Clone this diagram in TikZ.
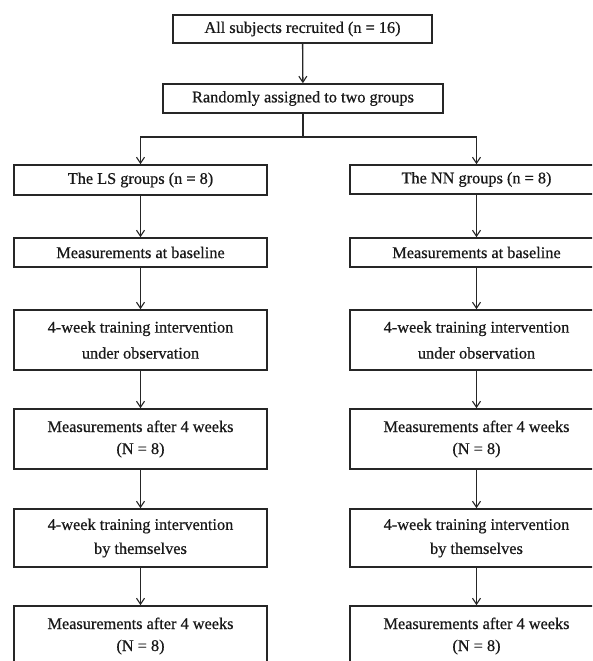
\documentclass[tikz,border=0pt]{standalone}
\usepackage{fontspec}
\setmainfont{Liberation Serif}[FakeBold=0.6]
\newfontfamily\boxfont{Liberation Serif}[FakeBold=0.6]
\usetikzlibrary{arrows.meta}

\begin{document}
\begin{tikzpicture}[x=1pt, y=-1pt,
    box/.style={draw=black!85, line width=1.6pt, fill=white, inner sep=0pt,
      align=center, text=black!90, font=\boxfont\fontsize{16.3}{24}\selectfont},
    colbox/.style={box, minimum width=253pt},
    arr/.style={draw=black!85, line width=1.3pt,
      -{Straight Barb[length=6pt, width=8pt, line width=1.1pt]}}]
    \useasboundingbox (0,0) rectangle (592,661);
    \clip (0,0) rectangle (592,661);
    \fill[white] (0,0) rectangle (592,661);
    \node[box, minimum width=259pt, minimum height=28pt] (allsub) at (302.5,29)
      {All subjects recruited (n = 16)};
    \node[box, minimum width=280pt, minimum height=29pt] (rand) at (303,98.5)
      {Randomly assigned to two groups};
    \coordinate (split) at (303,137);
    \node[colbox, minimum height=30pt] (ls) at (140.5,180)
      {The LS groups (n = 8)};
    \node[colbox, minimum height=29pt] (nn) at (476.5,179.5)
      {The NN groups (n = 8)};
    \node[colbox, minimum height=29pt] (lsbase) at (140.5,252.5)
      {Measurements at baseline};
    \node[colbox, minimum height=29pt] (nnbase) at (476.5,252.5)
      {Measurements at baseline};
    \node[colbox, minimum height=60pt] (lsobs) at (140.5,340)
      {4-week training intervention\\[2pt]under observation};
    \node[colbox, minimum height=60pt] (nnobs) at (476.5,340)
      {4-week training intervention\\[2pt]under observation};
    \node[colbox, minimum height=60pt] (lsmeas) at (140.5,439)
      {Measurements after 4 weeks\\[-2pt](N = 8)};
    \node[colbox, minimum height=60pt] (nnmeas) at (476.5,439)
      {Measurements after 4 weeks\\[-2pt](N = 8)};
    \node[colbox, minimum height=58pt] (lsself) at (140.5,538)
      {4-week training intervention\\by themselves};
    \node[colbox, minimum height=58pt] (nnself) at (476.5,538)
      {4-week training intervention\\by themselves};
    \node[colbox, minimum height=60pt] (lsend) at (140.5,636)
      {Measurements after 4 weeks\\[-2pt](N = 8)};
    \node[colbox, minimum height=60pt] (nnend) at (476.5,636)
      {Measurements after 4 weeks\\[-2pt](N = 8)};
    \draw[arr] (allsub) -- (rand);
    \draw[draw=black!85, line width=1.3pt] (rand) -- (split);
    \draw[arr] (split) -| (ls);
    \draw[arr] (split) -| (nn);
    \draw[arr] (ls) -- (lsbase);
    \draw[arr] (lsbase) -- (lsobs);
    \draw[arr] (lsobs) -- (lsmeas);
    \draw[arr] (lsmeas) -- (lsself);
    \draw[arr] (lsself) -- (lsend);
    \draw[arr] (nn) -- (nnbase);
    \draw[arr] (nnbase) -- (nnobs);
    \draw[arr] (nnobs) -- (nnmeas);
    \draw[arr] (nnmeas) -- (nnself);
    \draw[arr] (nnself) -- (nnend);
\end{tikzpicture}
\end{document}
